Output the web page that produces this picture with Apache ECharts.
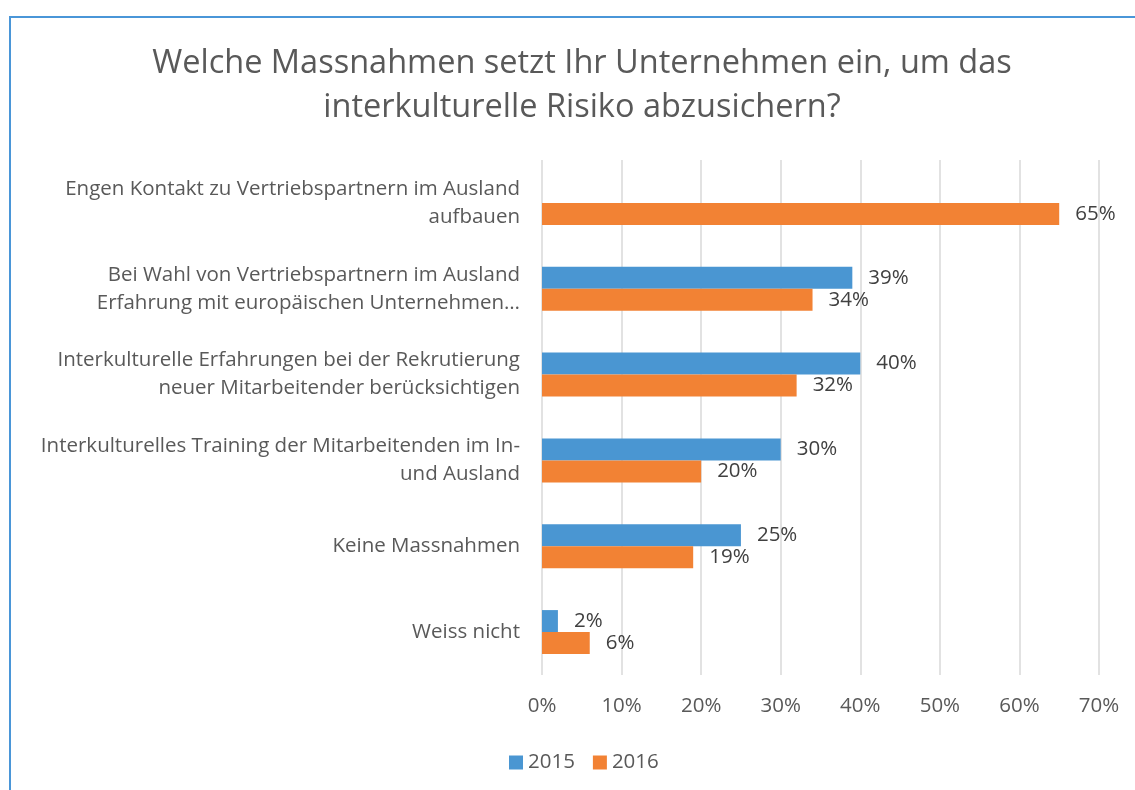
<!DOCTYPE html>
<html>
<head>
<meta charset="utf-8">
<script src="https://cdn.jsdelivr.net/npm/echarts@6/dist/echarts.min.js"></script>
<style>
html,body{margin:0;padding:0;background:#fff;}
#chart{width:1135px;height:790px;}
</style>
</head>
<body>
<div id="chart"></div>
<script>
const categories = [
  "Engen Kontakt zu Vertriebspartnern im Ausland\naufbauen",
  "Bei Wahl von Vertriebspartnern im Ausland\nErfahrung mit europäischen Unternehmen…",
  "Interkulturelle Erfahrungen bei der Rekrutierung\nneuer Mitarbeitender berücksichtigen",
  "Interkulturelles Training der Mitarbeitenden im In-\nund Ausland",
  "Keine Massnahmen",
  "Weiss nicht"
];
const values2015 = [null, 39, 40, 30, 25, 2];
const values2016 = [65, 34, 32, 20, 19, 6];
const xTicks = [0, 10, 20, 30, 40, 50, 60, 70];

const FONT = "'Open Sans', 'Noto Sans', sans-serif";
const chart = echarts.init(document.getElementById('chart'));
const labelCfg = {
  show: true, position: 'right', distance: 16,
  fontSize: 20.5, color: '#404040', fontFamily: FONT,
  formatter: p => p.value == null ? '' : p.value + '%'
};
chart.setOption({
  animation: false,
  textStyle: { fontFamily: FONT },
  graphic: [{
    type: 'rect', shape: { x: 10, y: 17, width: 1200, height: 900 },
    style: { fill: 'none', stroke: '#4a96d8', lineWidth: 2 }, silent: true
  }],
  title: {
    text: 'Welche Massnahmen setzt Ihr Unternehmen ein, um das\ninterkulturelle Risiko abzusichern?',
    left: 577, top: 37, textAlign: 'center',
    textStyle: { fontSize: 32.5, lineHeight: 44, fontWeight: 'normal', color: '#595959', fontFamily: FONT }
  },
  legend: {
    data: ['2015', '2016'],
    left: 509, top: 752, padding: 0,
    itemWidth: 14, itemHeight: 14, itemGap: 18,
    icon: 'rect',
    textStyle: { fontSize: 20.5, color: '#595959', fontFamily: FONT }
  },
  grid: { left: 542, right: 36, top: 160, bottom: 115, containLabel: false },
  xAxis: {
    type: 'value', min: xTicks[0], max: xTicks[xTicks.length - 1], interval: 10,
    axisLine: { show: false }, axisTick: { show: false },
    axisLabel: { formatter: '{value}%', fontSize: 20.5, color: '#595959', margin: 21, fontFamily: FONT },
    splitLine: { show: true, lineStyle: { color: '#d9d9d9', width: 1.5 } }
  },
  yAxis: {
    type: 'category', data: categories, inverse: true,
    axisLine: { show: false }, axisTick: { show: false },
    axisLabel: { fontSize: 20.5, lineHeight: 28, color: '#595959', margin: 22, align: 'right', fontFamily: FONT }
  },
  series: [
    { name: '2015', type: 'bar', data: values2015, barWidth: 22, barGap: '0%',
      itemStyle: { color: '#4a96d2' }, label: labelCfg },
    { name: '2016', type: 'bar', data: values2016, barWidth: 22, barGap: '0%',
      itemStyle: { color: '#f28234' }, label: labelCfg }
  ]
});
</script>
</body>
</html>
